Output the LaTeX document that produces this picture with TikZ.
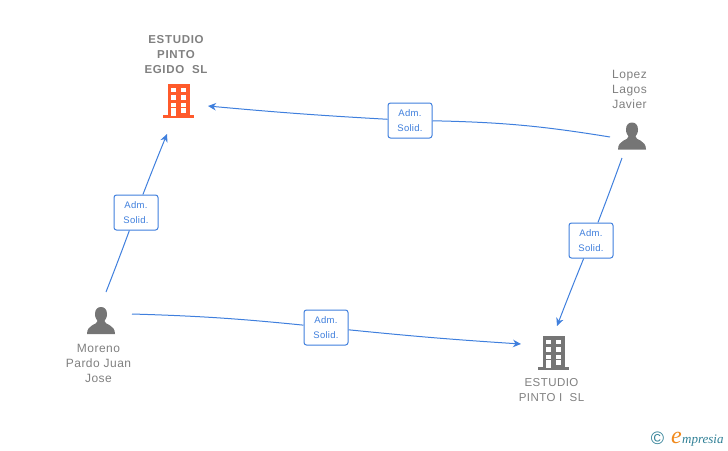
\documentclass[tikz,border=0pt]{standalone}
\usepackage{fontspec}
\setmainfont{Liberation Sans}
\newfontfamily\logofont{Liberation Serif}
\usetikzlibrary{arrows.meta}
\definecolor{linkblue}{HTML}{3F7FDD}
\definecolor{icongrey}{HTML}{757575}
\definecolor{textgrey}{HTML}{808080}
\definecolor{iconred}{HTML}{FF5A2B}
\definecolor{logoteal}{HTML}{2F7F95}
\definecolor{logoorange}{HTML}{F08A1D}
\tikzset{
  link/.style = {draw = linkblue, line width = 1pt},
  linkend/.style = {link, -{Stealth[length = 8pt, width = 7.5pt, inset = 2.5pt]}},
  rolebox/.style = {
    draw = linkblue,
    fill = white,
    rounded corners = 2.5pt,
    line width = 1pt,
    minimum width = 44pt,
    minimum height = 35pt,
    inner sep = 0pt,
    align = center,
    text = linkblue,
    font = \fontsize{9.5}{15.5}\selectfont\addfontfeature{LetterSpace=3}
  },
  iconspot/.style = {inner sep = 0pt, minimum width = 30pt, minimum height = 32pt},
  namelabel/.style = {
    inner sep = 0pt,
    align = center,
    text = textgrey,
    font = \fontsize{12}{15}\selectfont\addfontfeature{LetterSpace=4}
  },
  firmlabel/.style = {namelabel, font = \fontsize{11.5}{15}\selectfont\addfontfeature{LetterSpace=4}},
  firmlead/.style = {firmlabel, font = \fontsize{11.5}{15}\selectfont\bfseries\addfontfeature{LetterSpace=6}},
  personicon/.pic = {
    \fill[icongrey] (-6,-6.5) .. controls (-6,-11) and (-3.5,-13.5) .. (0,-13.5)
      .. controls (3.5,-13.5) and (6,-11) .. (6,-6.5)
      .. controls (6,-3) and (4.5,-1) .. (3.5,0.5)
      .. controls (3.5,4.5) and (14,3.5) .. (14,13.5)
      -- (-14,13.5)
      .. controls (-14,3.5) and (-3.5,4.5) .. (-3.5,0.5)
      .. controls (-4.5,-1) and (-6,-3) .. (-6,-6.5) -- cycle;
  },
  buildingicon/.pic = {
    \fill[pic actions] (-11,-16) rectangle (11,16);
    \fill[pic actions] (-15.5,15) rectangle (15.5,18);
    \foreach \ypos in {-12.5,-5,2.5} {
      \fill[white] (-7.5,\ypos) rectangle ++(4.5,4.5);
      \fill[white] (2.5,\ypos) rectangle ++(4.5,4.5);
    }
    \fill[white] (-7.5,8) rectangle (-3,16);
    \fill[white] (2.5,8) rectangle (7,12.5);
  }
}
\begin{document}
\begin{tikzpicture}[x = 1pt, y = -1pt]
  \useasboundingbox (0,0) rectangle (728,450);

  % people and firms
  \node[iconspot] (egido) at (178.5,100) {};
  \node[iconspot] (pintoi) at (553.5,352) {};
  \node[iconspot] (lopez) at (632,136) {};
  \node[iconspot] (moreno) at (101,320.5) {};
  \pic[fill = iconred] at (egido) {buildingicon};
  \pic[fill = icongrey] at (pintoi) {buildingicon};
  \pic at (lopez) {personicon};
  \pic at (moreno) {personicon};

  \node[firmlead] (egidolabel) at (176,55) {ESTUDIO\\PINTO\\EGIDO\ \ SL};
  \node[firmlabel] (pintoilabel) at (551.5,390) {ESTUDIO\\PINTO I\ \ SL};
  \node[namelabel] (lopezlabel) at (629.5,89) {Lopez\\Lagos\\Javier};
  \node[namelabel] (morenolabel) at (98.5,363) {Moreno\\Pardo Juan\\Jose};

  % role boxes
  \node[rolebox] (boxtop) at (410,120.5) {Adm.\\Solid.};
  \node[rolebox] (boxleft) at (136,212.5) {Adm.\\Solid.};
  \node[rolebox] (boxbottom) at (326,327.5) {Adm.\\Solid.};
  \node[rolebox] (boxright) at (591,240.5) {Adm.\\Solid.};

  % free ends of the links
  \coordinate (lopezwest) at (610,137);
  \coordinate (lopezsouth) at (622,158);
  \coordinate (morenonorth) at (106,292);
  \coordinate (morenoeast) at (132,314);
  \coordinate (egidoeast) at (208,106);
  \coordinate (egidosouth) at (167,134);
  \coordinate (pintoiwest) at (521,344);
  \coordinate (pintoinorth) at (557,326);

  \draw[link] (lopezwest) to[bend right = 4] (boxtop);
  \draw[linkend] (boxtop) to[bend left = 1] (egidoeast);
  \draw[link] (morenonorth) to[bend right = 0.5] (boxleft);
  \draw[linkend] (boxleft) to[bend left = 0.5] (egidosouth);
  \draw[link] (morenoeast) to[bend left = 2] (boxbottom);
  \draw[linkend] (boxbottom) to[bend right = 1] (pintoiwest);
  \draw[link] (lopezsouth) to[bend left = 0.5] (boxright);
  \draw[linkend] (boxright) to[bend right = 0.5] (pintoinorth);

  % logo
  \node[inner sep = 0pt, text = logoteal, font = \fontsize{18}{18}\selectfont] (logomark) at (657.5,438.5) {©};
  \node[inner sep = 0pt, anchor = base west, text = logoteal,
    font = \logofont\fontsize{13}{13}\selectfont\itshape] (logoword) at (682,443.5) {mpresia};
  \node[inner sep = 0pt, anchor = base east, text = logoorange,
    font = \logofont\fontsize{24}{24}\selectfont\itshape] (logoinitial) at (logoword.base west) {e};
\end{tikzpicture}
\end{document}
